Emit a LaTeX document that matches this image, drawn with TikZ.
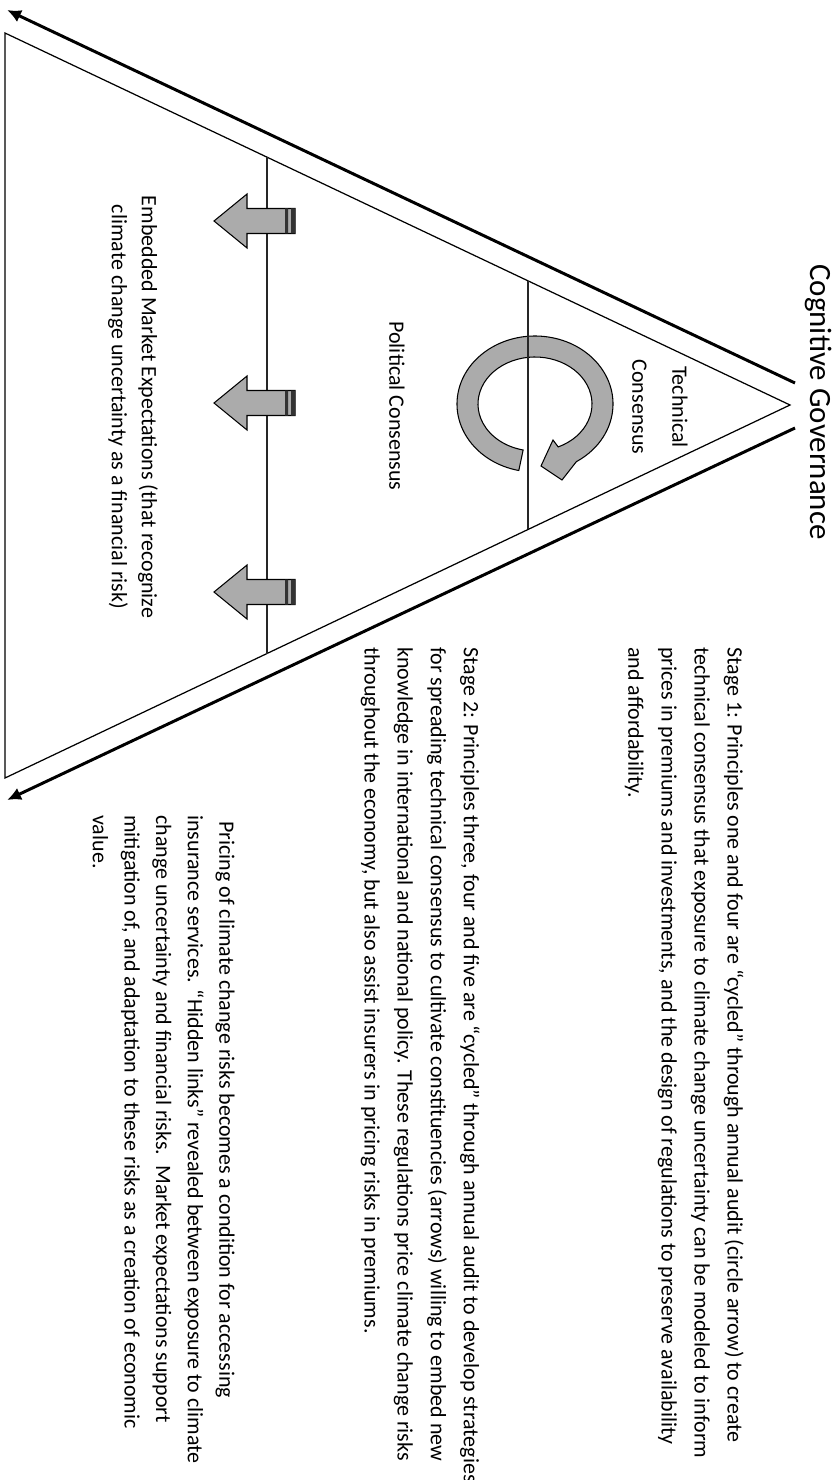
\documentclass[tikz,border=0pt]{standalone}
\usepackage{fontspec}
\setmainfont{Carlito}
\usetikzlibrary{arrows.meta,calc}

\begin{document}
\begin{tikzpicture}[x=0.2mm, y=-0.2mm,
    every node/.style={font=\fontsize{12.5}{18.8}\selectfont, inner sep=0pt},
    edge/.style={line width=0.7pt},
    divider/.style={line width=1pt, black!85},
    gov/.style={line width=1.7pt, -{Latex[length=2.8mm,width=2.6mm]}},
    para/.style={rotate=-90, anchor=north west, align=left},
    lbl/.style={rotate=-90, align=center},
    ring/.style={fill=black!33, draw, line width=0.6pt},
    blk/.pic={
      \filldraw[fill=black!33, line width=0.6pt] (-53,0) -- (-20,-27) -- (-20,-12.5) -- (28,-12.5)
        -- (28,12.5) -- (-20,12.5) -- (-20,27) -- cycle;
      \fill[black!80] (18,-12.5) rectangle (21,12.5) (24,-12.5) rectangle (28,12.5);
    }]
  \useasboundingbox (0,0) rectangle (833,1480);
  % triangle corners and governance arrows
  \coordinate (apex) at (790,405);
  \coordinate (tl) at (5,33);
  \coordinate (bl) at (5,778);
  \coordinate (g1) at (795,383); \coordinate (g1e) at (7,10);
  \coordinate (g2) at (795,428); \coordinate (g2e) at (7,800);
  \draw[gov] (g1) -- (g1e);
  \draw[gov] (g2) -- (g2e);
  \draw[edge] (tl) -- (apex) -- (bl) -- cycle;
  % stage dividers
  \coordinate (d1a) at ($(tl)!2/3!(apex)$); \coordinate (d1b) at ($(bl)!2/3!(apex)$);
  \coordinate (d2a) at ($(tl)!1/3!(apex)$); \coordinate (d2b) at ($(bl)!1/3!(apex)$);
  % circle arrow (annual audit)
  \coordinate (cc) at (535,404);
  \filldraw[ring] ($(cc)+(102:78 and 68)$) arc[start angle=102, end angle=418, x radius=78, y radius=68]
    -- (562,480) -- (541,466) -- (553,440) -- ($(cc)+(66:57 and 47)$)
    arc[start angle=426, end angle=102, x radius=57, y radius=47] -- cycle;
  \draw[divider] (d1a) -- (d1b);
  \draw[divider] (d2a) -- (d2b);
  % constituency arrows
  \pic at (267,221) {blk};
  \pic at (267,403) {blk};
  \pic at (267,592) {blk};
  % labels
  \node[lbl, font=\fontsize{17.6}{20}\selectfont] (cog) at (819,402) {Cognitive Governance};
  \node[lbl] (tech) at (660,407) {Technical\\[4pt]Consensus};
  \node[lbl] (pol) at (397,406) {Political Consensus};
  \node[lbl, font=\fontsize{12.5}{17}\selectfont] (emb) at (133,407)
    {Embedded Market Expectations (that recognize\\climate change uncertainty as a financial risk)};
  \node[para] (st1) at (744,647) {Stage 1: Principles one and four are “cycled” through annual audit (circle arrow) to create\\
    technical consensus that exposure to climate change uncertainty can be modeled to inform\\
    prices in premiums and investments, and the design of regulations to preserve availability\\
    and affordability.};
  \node[para] (st2) at (480,647) {Stage 2: Principles three, four and five are “cycled” through annual audit to develop strategies\\
    for spreading technical consensus to cultivate constituencies (arrows) willing to embed new\\
    knowledge in international and national policy. These regulations price climate change risks\\
    throughout the economy, but also assist insurers in pricing risks in premiums.};
  \node[para, font=\fontsize{12.5}{18}\selectfont] (st3) at (235,815) {\hspace*{1.2mm}Pricing of climate change risks becomes a condition for accessing\\
    insurance services. “Hidden links” revealed between exposure to climate\\
    change uncertainty and financial risks.\ \ Market expectations support\\
    mitigation of, and adaptation to these risks as a creation of economic\\
    value.};
\end{tikzpicture}
\end{document}
